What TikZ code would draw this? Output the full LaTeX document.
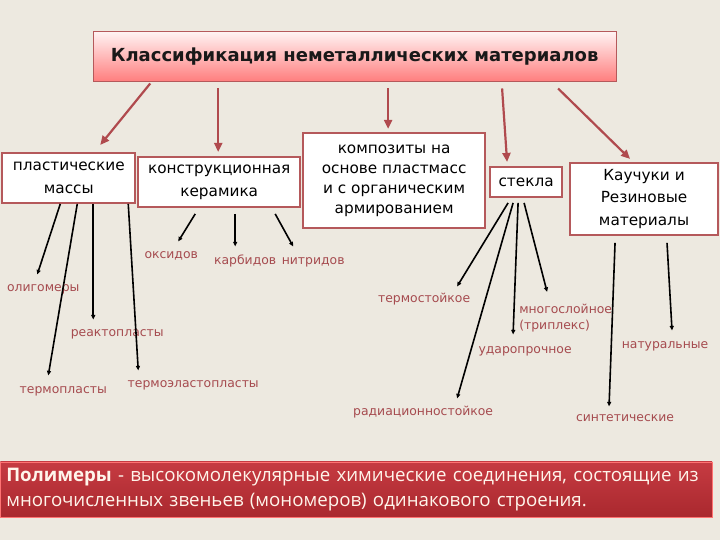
\documentclass[tikz,border=0pt]{standalone}
\usepackage{fontspec}
\setmainfont{DejaVu Sans}
\newfontfamily\polyfont{Open Sans}
\usetikzlibrary{arrows.meta}
\definecolor{bgcol}{HTML}{EDE9E0}
\definecolor{boxline}{HTML}{B5595B}
\definecolor{redarr}{HTML}{B04A4E}
\definecolor{labcol}{HTML}{A64B4F}
\definecolor{bandtop}{HTML}{C63B42}
\definecolor{bandbot}{HTML}{A9282E}
\begin{document}
\begin{tikzpicture}[x=1pt,y=-1pt,
  kind/.style={draw=boxline,line width=2pt,fill=white,align=center,inner sep=2pt,
    font=\fontsize{15.3}{23}\selectfont},
  lab/.style={text=labcol,inner sep=1pt,text height=8pt,text depth=2.5pt,
    font=\fontsize{12.4}{15}\selectfont},
  main/.style={-{Triangle[length=9pt,width=8pt]},draw=redarr,line width=2.2pt},
  sub/.style={-{Triangle[length=4.5pt,width=4pt]},line width=1.6pt}]

  \fill[bgcol] (0,0) rectangle (720,540);

  \node[draw=boxline,line width=1pt,top color=red!5,bottom color=red!35!pink,
    minimum width=523pt,minimum height=50pt,
    font=\fontsize{18}{22}\bfseries\selectfont,text=black!90] (title) at (354.5,57)
    {Классификация неметаллических материалов};

	\node[kind,minimum width=133pt,minimum height=50pt] (plast) at (68.5,178) {пластические\\массы};
	\node[kind,minimum width=162pt,minimum height=50pt] (keram) at (219,182) {конструкционная\\керамика};
	\node[kind,minimum width=182pt,minimum height=95pt,font=\fontsize{15.3}{20}\selectfont]
	  (kompoz) at (394,180.5) {композиты на\\основе пластмасс\\и с органическим\\армированием};
	\node[kind,minimum width=72pt,minimum height=30pt] (stekla) at (526,182) {стекла};
	\node[kind,minimum width=148pt,minimum height=72pt,font=\fontsize{15.3}{22.5}\selectfont]
	  (kauch) at (644,199) {Каучуки и\\Резиновые\\материалы};

	\draw[main] ([xshift=-204.5pt,yshift=-1pt]title.south) -- ([xshift=31.5pt,yshift=7pt]plast.north);
	\draw[main] ([xshift=-136.5pt,yshift=-6pt]title.south) -- ([xshift=-1pt,yshift=4pt]keram.north);
	\draw[main] ([xshift=33.5pt,yshift=-6pt]title.south) -- ([xshift=-6pt,yshift=3pt]kompoz.north);
	\draw[main] ([xshift=147.5pt,yshift=-6pt]title.south) -- ([xshift=-19pt,yshift=4pt]stekla.north);
	\draw[main] ([xshift=203.5pt,yshift=-6pt]title.south) -- ([xshift=-14pt,yshift=3pt]kauch.north);

  % plastics
	\node[lab] (olig) at (43,289) {олигомеры};
	\node[lab] (termpl) at (63,391) {термопласты};
	\node[lab] (reakt) at (117,334) {реактопласты};
	\node[lab] (termel) at (193,385) {термоэластопласты};
	\draw[sub] ([xshift=-8.5pt]plast.south) -- ([xshift=-6pt,yshift=8pt]olig.north);
	\draw[sub] ([xshift=8.5pt]plast.south) -- ([xshift=-15pt,yshift=9pt]termpl.north);
	\draw[sub] ([xshift=24.5pt]plast.south) -- ([xshift=-24pt,yshift=8pt]reakt.north);
	\draw[sub] ([xshift=59.5pt]plast.south) -- ([xshift=-55pt,yshift=8pt]termel.north);

  % ceramics
	\node[lab] (oks) at (171,256) {оксидов};
	\node[lab] (karb) at (245,262) {карбидов};
	\node[lab] (nitr) at (313,262) {нитридов};
	\draw[sub] ([xshift=-24pt,yshift=-6pt]keram.south) -- ([xshift=7pt,yshift=8pt]oks.north);
	\draw[sub] ([xshift=16pt,yshift=-6pt]keram.south) -- ([xshift=-10pt,yshift=9pt]karb.north);
	\draw[sub] ([xshift=56pt,yshift=-6pt]keram.south) -- ([xshift=-20pt,yshift=9pt]nitr.north);

  % glass
	\node[lab] (termst) at (424,300) {термостойкое};
	\node[lab] (radst) at (423,413) {радиационностойкое};
	\node[lab] (udar) at (525,351) {ударопрочное};
	\node[lab,anchor=north west,align=left,text height=,text depth=,
	  font=\fontsize{12.4}{16}\selectfont] (mnogo) at (518,303) {многослойное\\(триплекс)};
	\draw[sub] ([xshift=-18pt,yshift=-5pt]stekla.south) -- ([xshift=33pt,yshift=7pt]termst.north);
	\draw[sub] ([xshift=-13pt,yshift=-5pt]stekla.south) -- ([xshift=34pt,yshift=8pt]radst.north);
	\draw[sub] ([xshift=-8pt,yshift=-5pt]stekla.south) -- ([xshift=-12pt,yshift=10pt]udar.north);
	\draw[sub] ([xshift=-2pt,yshift=-5pt]stekla.south) -- ([xshift=29pt,yshift=11pt]mnogo.north west);

  % rubber
	\node[lab] (sint) at (625,419) {синтетические};
	\node[lab] (natur) at (665,346) {натуральные};
	\draw[sub] ([xshift=-29pt,yshift=-7pt]kauch.south) -- ([xshift=-16pt,yshift=6pt]sint.north);
	\draw[sub] ([xshift=23pt,yshift=-7pt]kauch.south) -- ([xshift=7pt,yshift=9pt]natur.north);

	\node[top color=bandtop,bottom color=bandbot,draw=red!40!pink,line width=0.6pt,
	  minimum width=712pt,minimum height=56pt,inner xsep=6pt,
	  text width=700pt,align=left,text=white!92!orange,
	  font=\polyfont\fontsize{18.7}{25}\selectfont] (polym) at (356,490)
	  {\textbf{Полимеры} - высокомолекулярные химические соединения, состоящие из\\
	   многочисленных звеньев (мономеров) одинакового строения.};

  \useasboundingbox (0,0) rectangle (720,540);
\end{tikzpicture}
\end{document}
